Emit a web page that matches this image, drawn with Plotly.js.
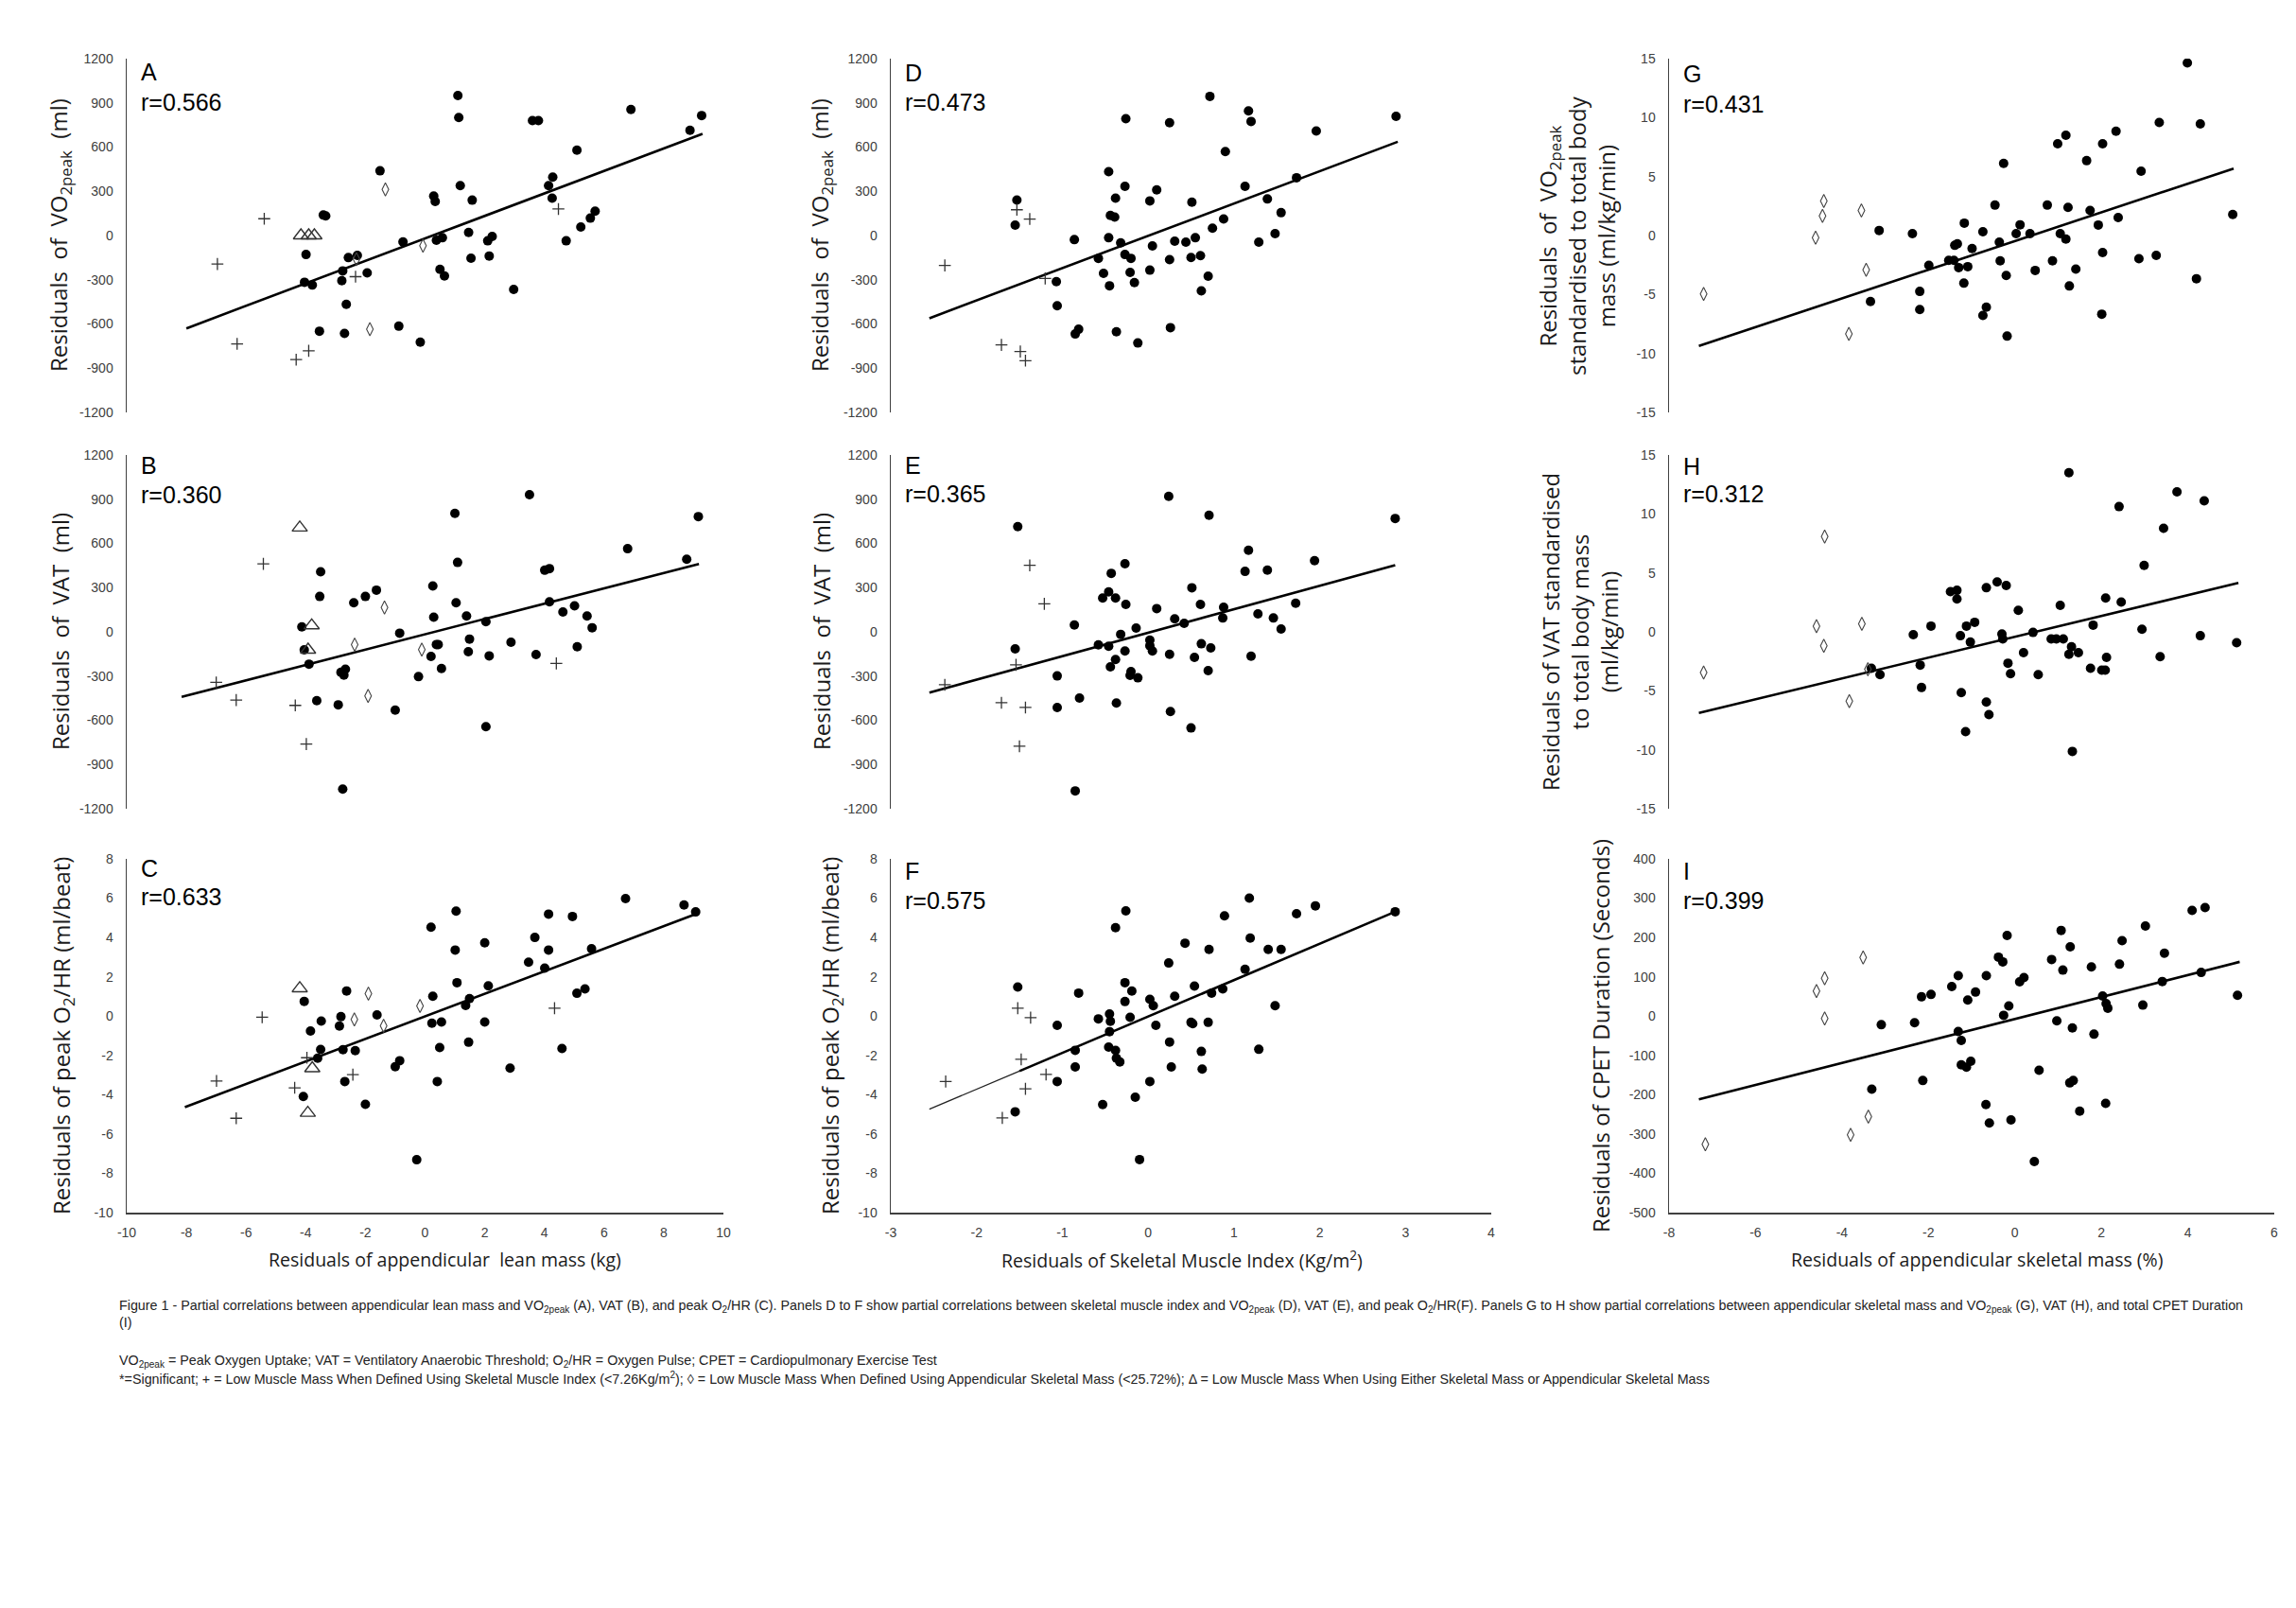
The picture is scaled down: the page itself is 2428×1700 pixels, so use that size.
<!DOCTYPE html>
<html>
<head>
<meta charset="utf-8">
<script src="https://cdn.plot.ly/plotly-3.0.1.min.js"></script>
<style>html,body{margin:0;padding:0;background:#fff;}#chart{width:2428px;height:1700px;}</style>
</head>
<body>
<div id="chart"></div>
<script>
// ---------------- DATA ----------------
// Panel A: appendicular lean mass (kg) vs VO2peak (ml)
const circX_A = [1.1,1.13,3.6,3.8,6.9,8.88,9.27,5.09,-1.51,1.18,4.14,4.28,4.26,0.29,0.34,1.58,-3.41,-3.33,1.46,5.70,5.54,5.22,4.73,-0.74,0.38,0.58,2.10,2.25,1.54,2.15,-3.99,-2.57,-2.27,-2.76,-1.94,-2.79,-4.04,-3.78,0.50,0.65,2.97,-2.64,-3.54,-2.70,-0.88,-0.16];
const circY_A = [950,800,780,780,855,714,814,579,439,339,339,396,253,268,231,240,139,133,21,165,118,58,-36,-43,-32,-15,-36,-6,-154,-139,-129,-150,-135,-240,-253,-306,-317,-336,-229,-274,-366,-467,-649,-664,-615,-724];
const crossX_A = [-5.39,-6.96,-2.33,4.47,-6.30,-3.90,-4.32];
const crossY_A = [114,-193,-279,180,-735,-782,-842];
const diamX_A = [-1.33,-0.07,-1.85,-2.3];
const diamY_A = [313,-69,-636,-160];
const triX_A = [-4.16,-3.90,-3.71];
const triY_A = [0,0,0];
const lineX_A = [-8,9.3];
const lineY_A = [-630,690];

// Panel B: appendicular lean mass vs VAT (ml)
const circX_B = [3.50,1.0,9.16,6.79,8.77,1.09,-3.50,4.01,4.17,-3.53,-1.63,-2.0,-2.39,0.26,1.04,4.17,4.62,5.01,5.43,5.60,0.29,1.39,2.04,-4.13,-0.85,0.44,0.38,1.49,2.88,-4.05,1.45,0.20,2.15,3.72,5.10,-3.89,-2.67,-2.82,-2.72,0.55,-0.22,-3.63,-2.91,-1.0,2.04,-2.76];
const circY_B = [930,804,782,564,493,471,407,418,429,240,283,240,197,311,197,204,135,176,107,28,99,107,69,34,-9,-86,-86,-49,-71,-122,-135,-167,-163,-154,-101,-219,-253,-274,-294,-249,-304,-467,-495,-531,-643,-1067];
const crossX_B = [-5.42,4.40,-7.0,-6.33,-4.35,-3.98];
const crossY_B = [461,-214,-343,-463,-499,-761];
const diamX_B = [-1.36,-2.36,-0.11,-1.91];
const diamY_B = [165,-86,-120,-435];
const triX_B = [-4.20,-3.80,-3.92];
const triY_B = [707,43,-122];
const lineX_B = [-8.16,9.18];
const lineY_B = [-441,461];

// Panel C: appendicular lean mass vs peak O2/HR (ml/beat)
const circX_C = [6.72,8.68,9.07,1.04,4.14,4.94,0.20,3.68,2.0,1.01,4.14,5.58,3.47,4.01,1.07,2.12,-2.63,5.36,5.09,-4.05,0.26,1.49,1.36,-1.61,-2.82,-3.48,-2.87,0.23,0.55,2.0,-3.84,1.46,0.49,4.59,-3.50,-2.75,-2.34,-3.60,-0.85,-1.0,2.85,-2.69,0.41,-4.08,-2.0,-0.28];
const circY_C = [5.98,5.65,5.30,5.34,5.19,5.07,4.52,4.0,3.73,3.36,3.36,3.43,2.74,2.44,1.70,1.54,1.28,1.38,1.16,0.75,1.01,0.89,0.54,0.06,-0.03,-0.25,-0.51,-0.36,-0.30,-0.30,-0.76,-1.33,-1.60,-1.65,-1.70,-1.71,-1.76,-2.14,-2.27,-2.58,-2.65,-3.33,-3.33,-4.09,-4.49,-7.31];
const crossX_C = [-5.46,4.34,-3.96,-2.42,-6.99,-4.37,-6.33];
const crossY_C = [-0.06,0.40,-2.12,-2.98,-3.30,-3.65,-5.20];
const diamX_C = [-1.90,-2.37,-1.39,-0.17];
const diamY_C = [1.14,-0.17,-0.49,0.52];
const triX_C = [-4.20,-3.78,-3.93];
const triY_C = [1.41,-2.66,-4.93];
const lineX_C = [-8.05,9.04];
const lineY_C = [-4.63,5.17];

// Panel D: skeletal muscle index vs VO2peak (ml)
const circX_D = [0.72,-0.26,0.25,1.17,1.20,2.89,1.96,0.90,-0.46,1.73,-0.27,0.10,1.13,-1.53,-0.38,0.02,0.51,1.39,-0.44,-0.39,1.55,0.88,0.75,1.48,-1.55,-0.86,-0.46,-0.32,0.31,0.44,0.55,1.29,0.05,-0.27,-0.20,-0.58,0.25,0.50,0.61,-0.52,-0.21,0.02,0.70,-1.07,-0.16,-0.45,0.62,-1.06,-0.81,-0.85,-0.37,0.26,-0.12];
const circY_D = [944,793,765,845,774,809,709,569,433,392,334,310,334,241,254,235,226,248,136,125,155,112,50,13,71,-28,-15,-50,-39,-45,-15,-45,-71,-129,-155,-155,-164,-149,-136,-257,-250,-235,-276,-313,-319,-341,-375,-476,-636,-668,-653,-625,-729];
const crossX_D = [-1.53,-1.38,-2.37,-1.20,-1.71,-1.49,-1.43];
const crossY_D = [175,112,-203,-291,-742,-787,-849];
const lineX_D = [-2.55,2.91];
const lineY_D = [-561,636];

// Panel E: skeletal muscle index vs VAT (ml)
const circX_E = [0.24,0.71,2.88,-1.52,1.17,1.94,-0.27,-0.43,1.13,1.39,0.51,-0.46,-0.53,-0.38,-0.26,0.61,0.10,0.88,1.72,1.28,1.46,0.31,0.87,0.42,-0.86,-0.14,1.55,-0.32,0.02,-0.58,-0.46,0.02,0.05,-0.27,0.62,0.73,-1.55,0.25,1.20,0.54,-0.38,-0.44,0.70,-0.20,-0.21,-0.12,-1.06,-0.80,-0.37,-1.06,0.26,0.50,-0.85];
const circY_E = [919,791,769,714,553,483,462,397,410,419,299,271,229,229,186,186,158,167,194,122,94,88,94,58,47,26,19,-17,-56,-88,-98,-94,-130,-130,-81,-109,-115,-152,-165,-173,-188,-237,-263,-269,-295,-312,-299,-449,-483,-513,-541,-652,-1079];
const crossX_E = [-1.38,-1.21,-1.54,-2.37,-1.71,-1.43,-1.50];
const crossY_E = [451,190,-224,-359,-481,-513,-776];
const lineX_E = [-2.55,2.88];
const lineY_E = [-412,453];

// Panel F: skeletal muscle index vs peak O2/HR (ml/beat)
const circX_F = [1.18,1.95,1.73,2.88,-0.26,0.89,-0.38,1.19,0.43,0.71,1.40,1.55,0.24,1.13,-0.27,-1.52,0.54,0.87,-0.19,-0.81,0.74,0.31,0.02,-0.27,0.06,1.48,-0.45,-0.58,-0.44,-0.21,0.50,0.52,0.70,-1.06,0.09,-0.45,0.25,-0.46,-0.85,-0.38,0.62,1.29,-0.37,-0.33,-0.85,0.27,0.63,-1.06,0.02,-0.15,-0.53,-1.55,-0.10];
const circY_F = [6.0,5.61,5.21,5.31,5.35,5.10,4.50,3.97,3.71,3.39,3.39,3.39,2.70,2.38,1.70,1.48,1.53,1.38,1.27,1.17,1.17,1.01,0.85,0.74,0.53,0.53,0.11,-0.14,-0.27,-0.06,-0.32,-0.39,-0.32,-0.47,-0.47,-0.79,-1.32,-1.58,-1.74,-1.75,-1.80,-1.69,-2.14,-2.33,-2.59,-2.59,-2.70,-3.33,-3.33,-4.13,-4.50,-4.87,-7.30];
const crossX_F = [-1.52,-1.37,-1.48,-1.19,-2.36,-1.43,-1.70];
const crossY_F = [0.40,-0.08,-2.20,-2.97,-3.33,-3.70,-5.18];
const lineX_F = [-2.55,-1.5,2.88];
const lineY_F = [-4.74,-2.80,5.31];

// Panel G: appendicular skeletal mass (%) vs VO2peak (ml/kg/min)
const circX_G = [3.99,3.34,4.29,2.34,1.18,0.99,2.03,1.66,-0.26,2.92,-0.46,0.75,1.23,1.74,5.04,2.39,-1.17,0.12,1.93,-3.14,-2.37,-0.74,0.03,0.35,1.05,1.18,-0.36,-1.33,-1.39,-0.99,2.03,2.87,3.27,-1.53,-1.41,-0.34,0.87,-1.99,-1.30,-1.09,0.47,1.41,-0.20,4.20,-1.18,1.26,-2.20,-3.34,-2.20,-0.66,-0.74,2.01,-0.18];
const circY_G = [14.64,9.58,9.47,8.85,8.50,7.78,7.78,6.35,6.11,5.46,2.58,2.58,2.39,2.13,1.78,1.53,1.05,0.91,0.89,0.43,0.16,0.32,0.16,0.16,0.16,-0.30,-0.56,-0.70,-0.83,-1.10,-1.45,-1.96,-1.69,-2.10,-2.10,-2.15,-2.15,-2.53,-2.72,-2.64,-2.96,-2.85,-3.39,-3.66,-4.04,-4.28,-4.74,-5.60,-6.27,-6.08,-6.78,-6.67,-8.53];
const diamX_G = [-4.42,-4.45,-3.55,-4.61,-3.44,-7.20,-3.84];
const diamY_G = [2.93,1.67,2.13,-0.19,-2.91,-4.95,-8.34];
const lineX_G = [-7.31,5.06];
const lineY_G = [-9.36,5.68];

// Panel H: appendicular skeletal mass (%) vs VAT (ml/kg/min)
const circX_H = [1.25,3.75,4.38,2.41,3.44,2.99,-0.41,-0.20,-0.66,-1.49,-1.34,-1.34,2.10,2.46,1.05,0.08,-0.93,-1.94,-1.12,1.81,2.94,0.42,-2.35,-1.26,-0.30,-0.28,4.29,0.84,0.96,1.12,-1.03,5.13,1.31,1.25,1.47,0.20,3.36,2.12,-0.16,-2.19,-3.32,1.75,2.01,2.09,-3.12,-0.10,0.54,-2.16,-1.24,-0.66,-0.60,-1.14,1.33];
const circY_H = [13.50,11.87,11.11,10.62,8.78,5.64,4.23,3.93,3.74,3.41,3.52,2.79,2.87,2.52,2.25,1.82,0.81,0.49,0.49,0.57,0.22,-0.05,-0.24,-0.33,-0.19,-0.60,-0.33,-0.60,-0.60,-0.60,-0.87,-0.92,-1.27,-1.90,-1.76,-1.76,-2.11,-2.17,-2.66,-2.82,-3.09,-3.09,-3.25,-3.25,-3.63,-3.55,-3.63,-4.72,-5.15,-5.96,-7.02,-8.46,-10.14];
const diamX_H = [-4.40,-4.59,-3.54,-4.42,-3.40,-7.20,-3.83];
const diamY_H = [8.08,0.49,0.68,-1.19,-3.17,-3.44,-5.88];
const lineX_H = [-7.31,5.17];
const lineY_H = [-6.88,4.15];

// Panel I: appendicular skeletal mass (%) vs CPET duration (s)
const circX_I = [4.10,4.40,3.02,1.07,-0.18,2.48,1.28,3.46,-0.38,-0.28,0.85,2.42,1.77,1.11,4.31,-1.31,-0.66,0.21,0.11,3.41,-1.46,-0.91,-1.94,-2.16,-1.09,2.03,5.15,2.11,2.15,2.96,-0.14,-0.26,-3.09,-2.32,0.97,1.33,-1.31,-1.24,1.83,-1.02,-1.24,-1.12,0.56,-2.13,1.27,1.35,-3.31,-0.67,2.10,1.50,-0.59,-0.09,0.45];
const circY_I = [269,276,229,218,205,192,176,160,150,138,144,132,125,117,111,103,103,98,87,88,75,61,55,49,41,51,53,32,20,28,26,2,-22,-17,-12,-30,-39,-62,-46,-115,-124,-130,-138,-164,-170,-164,-186,-225,-222,-242,-272,-264,-370];
const diamX_I = [-3.51,-4.40,-4.59,-4.40,-3.39,-3.80,-7.16];
const diamY_I = [149,96,64,-6,-256,-302,-326];
const lineX_I = [-7.31,5.20];
const lineY_I = [-212,138];

// Tick values
const ticksMl = [-1200,-900,-600,-300,0,300,600,900,1200];
const ticksO2HR = [-10,-8,-6,-4,-2,0,2,4,6,8];
const ticksKgMin = [-15,-10,-5,0,5,10,15];
const ticksSec = [-500,-400,-300,-200,-100,0,100,200,300,400];
const ticksLean = [-10,-8,-6,-4,-2,0,2,4,6,8,10];
const ticksSMI = [-3,-2,-1,0,1,2,3,4];
const ticksASM = [-8,-6,-4,-2,0,2,4,6];

// Texts
const rValues = {A:'r=0.566',B:'r=0.360',C:'r=0.633',D:'r=0.473',E:'r=0.365',F:'r=0.575',G:'r=0.431',H:'r=0.312',I:'r=0.399'};
const yTitles = {
  A:'Residuals  of  VO<sub>2peak</sub>  (ml)',
  B:'Residuals  of  VAT  (ml)',
  C:'Residuals of peak O<sub>2</sub>/HR (ml/beat)',
  D:'Residuals  of  VO<sub>2peak</sub>  (ml)',
  E:'Residuals  of  VAT  (ml)',
  F:'Residuals of peak O<sub>2</sub>/HR (ml/beat)',
  G:'Residuals  of  VO<sub>2peak</sub><br>standardised to total body<br>mass (ml/kg/min)',
  H:'Residuals of VAT standardised<br>to total body mass<br>(ml/kg/min)',
  I:'Residuals of CPET Duration (Seconds)'
};
const xTitles = ['Residuals of appendicular  lean mass (kg)','Residuals of Skeletal Muscle Index (Kg/m<sup>2</sup>)','Residuals of appendicular skeletal mass (%)'];
const captionLines = [
  'Figure 1 - Partial correlations between appendicular lean mass and VO<sub>2peak</sub> (A), VAT (B), and peak O<sub>2</sub>/HR (C). Panels D to F show partial correlations between skeletal muscle index and VO<sub>2peak</sub> (D), VAT (E), and peak O<sub>2</sub>/HR(F). Panels G to H show partial correlations between appendicular skeletal mass and VO<sub>2peak</sub> (G), VAT (H), and total CPET Duration',
  '(I)',
  'VO<sub>2peak</sub> = Peak Oxygen Uptake; VAT = Ventilatory Anaerobic Threshold; O<sub>2</sub>/HR = Oxygen Pulse; CPET = Cardiopulmonary Exercise Test',
  '*=Significant; + = Low Muscle Mass When Defined Using Skeletal Muscle Index (&lt;7.26Kg/m<sup>2</sup>); \u25CA = Low Muscle Mass When Defined Using Appendicular Skeletal Mass (&lt;25.72%); \u0394 = Low Muscle Mass When Using Either Skeletal Mass or Appendicular Skeletal Mass'
];

// ---------------- LAYOUT / STYLE ----------------
const W = 2428, H = 1700;
const colPx = [[134,765],[942,1577],[1765,2405]];
const rowPx = [[62,436],[481,855],[908,1282]];
const xRanges = [[-10,10],[-3,4],[-8,6]];
const xTicks = [ticksLean, ticksSMI, ticksASM];
const px = p => p / W;
const py = p => 1 - p / H;

const panels = [
  {id:'A',col:0,row:0,yr:[-1200,1200],yt:ticksMl,c:[circX_A,circY_A],p:[crossX_A,crossY_A],d:[diamX_A,diamY_A],t:[triX_A,triY_A],l:[lineX_A,lineY_A],lab:[76,108],ytx:63},
  {id:'B',col:0,row:1,yr:[-1200,1200],yt:ticksMl,c:[circX_B,circY_B],p:[crossX_B,crossY_B],d:[diamX_B,diamY_B],t:[triX_B,triY_B],l:[lineX_B,lineY_B],lab:[492,523],ytx:63},
  {id:'C',col:0,row:2,yr:[-10,8],yt:ticksO2HR,c:[circX_C,circY_C],p:[crossX_C,crossY_C],d:[diamX_C,diamY_C],t:[triX_C,triY_C],l:[lineX_C,lineY_C],lab:[918,948],ytx:66},
  {id:'D',col:1,row:0,yr:[-1200,1200],yt:ticksMl,c:[circX_D,circY_D],p:[crossX_D,crossY_D],l:[lineX_D,lineY_D],lab:[77,108],ytx:868},
  {id:'E',col:1,row:1,yr:[-1200,1200],yt:ticksMl,c:[circX_E,circY_E],p:[crossX_E,crossY_E],l:[lineX_E,lineY_E],lab:[492,522],ytx:868},
  {id:'F',col:1,row:2,yr:[-10,8],yt:ticksO2HR,c:[circX_F,circY_F],p:[crossX_F,crossY_F],l:[lineX_F,lineY_F],split:true,lab:[921,952],ytx:879},
  {id:'G',col:2,row:0,yr:[-15,15],yt:ticksKgMin,c:[circX_G,circY_G],d:[diamX_G,diamY_G],l:[lineX_G,lineY_G],lab:[78,110],ytx:1667},
  {id:'H',col:2,row:1,yr:[-15,15],yt:ticksKgMin,c:[circX_H,circY_H],d:[diamX_H,diamY_H],l:[lineX_H,lineY_H],lab:[493,522],ytx:1670},
  {id:'I',col:2,row:2,yr:[-500,400],yt:ticksSec,c:[circX_I,circY_I],d:[diamX_I,diamY_I],l:[lineX_I,lineY_I],lab:[921,952],ytx:1692}
];

const TICKFONT = {family:'"Liberation Sans", Arial, sans-serif', size:14, color:'#404040'};
const YTITLEFONT = {family:'"Open Sans", "DejaVu Sans", sans-serif', size:24, color:'#1a1a1a'};
const XTITLEFONT = {family:'"Open Sans", "DejaVu Sans", sans-serif', size:19.5, color:'#1a1a1a'};
const LABFONT = {family:'"Liberation Sans", Arial, sans-serif', size:25, color:'#000'};
const CAPFONT = {family:'"Liberation Sans", Arial, sans-serif', size:14.3, color:'#222'};

const traces = [];
const layout = {
  width: W, height: H,
  margin: {l:0, r:0, t:0, b:0},
  paper_bgcolor: '#fff', plot_bgcolor: 'rgba(0,0,0,0)',
  showlegend: false,
  annotations: []
};

panels.forEach((pn, i) => {
  const n = i + 1;
  const xa = n === 1 ? 'x' : 'x' + n;
  const ya = n === 1 ? 'y' : 'y' + n;
  const xKey = n === 1 ? 'xaxis' : 'xaxis' + n;
  const yKey = n === 1 ? 'yaxis' : 'yaxis' + n;
  const cp = colPx[pn.col], rp = rowPx[pn.row];
  const bottom = pn.row === 2;

  layout[xKey] = {
    domain: [px(cp[0]), px(cp[1])], range: xRanges[pn.col], anchor: ya,
    showgrid: false, zeroline: false, ticks: '', fixedrange: true,
    showline: bottom, linecolor: '#404040', linewidth: 1.5,
    showticklabels: bottom,
    tickmode: 'array', tickvals: xTicks[pn.col], ticktext: xTicks[pn.col].map(String),
    tickfont: TICKFONT, ticklabelstandoff: 8
  };
  layout[yKey] = {
    domain: [py(rp[1]), py(rp[0])], range: pn.yr, anchor: xa,
    showgrid: false, zeroline: false, ticks: '', fixedrange: true,
    showline: true, linecolor: '#404040', linewidth: 1.5,
    tickmode: 'array', tickvals: pn.yt, ticktext: pn.yt.map(String),
    tickfont: TICKFONT, ticklabelstandoff: 10
  };

  // regression line
  if (pn.split) {
    traces.push({type:'scatter', mode:'lines', x:pn.l[0].slice(0,2), y:pn.l[1].slice(0,2), xaxis:xa, yaxis:ya,
      line:{color:'#222', width:1.3}, hoverinfo:'skip'});
    traces.push({type:'scatter', mode:'lines', x:pn.l[0].slice(1), y:pn.l[1].slice(1), xaxis:xa, yaxis:ya,
      line:{color:'#000', width:2.6}, hoverinfo:'skip'});
  } else {
    traces.push({type:'scatter', mode:'lines', x:pn.l[0], y:pn.l[1], xaxis:xa, yaxis:ya,
      line:{color:'#000', width:2.6}, hoverinfo:'skip'});
  }
  // filled circles
  traces.push({type:'scatter', mode:'markers', x:pn.c[0], y:pn.c[1], xaxis:xa, yaxis:ya,
    marker:{symbol:'circle', size:10, color:'#000', line:{width:0}}});
  if (pn.p) traces.push({type:'scatter', mode:'markers', x:pn.p[0], y:pn.p[1], xaxis:xa, yaxis:ya,
    marker:{symbol:'cross-thin-open', size:9, color:'#333', line:{color:'#333', width:1.3}}});
  if (pn.d) traces.push({type:'scatter', mode:'markers', x:pn.d[0], y:pn.d[1], xaxis:xa, yaxis:ya,
    marker:{symbol:'diamond-tall-open', size:10, color:'#444', line:{color:'#444', width:1.1}}});
  if (pn.t) traces.push({type:'scatter', mode:'markers', x:pn.t[0], y:pn.t[1], xaxis:xa, yaxis:ya,
    marker:{symbol:'triangle-up-open', size:14, color:'#333', line:{color:'#333', width:1.4}}});

  // panel letter and r value
  layout.annotations.push({xref:'paper', yref:'paper', x:px(cp[0]+13), y:py(pn.lab[0]), xanchor:'left', yanchor:'middle',
    text:pn.id, showarrow:false, font:LABFONT});
  layout.annotations.push({xref:'paper', yref:'paper', x:px(cp[0]+13), y:py(pn.lab[1]), xanchor:'left', yanchor:'middle',
    text:rValues[pn.id], showarrow:false, font:LABFONT});
  // y title
  layout.annotations.push({xref:'paper', yref:'paper', x:px(pn.ytx), y:py((rp[0]+rp[1])/2), xanchor:'center', yanchor:'middle',
    text:yTitles[pn.id], textangle:-90, showarrow:false, font:YTITLEFONT, align:'center'});
});

// x titles
const xTitleCx = [470, 1250, 2090];
xTitles.forEach((t, c) => {
  layout.annotations.push({xref:'paper', yref:'paper', x:px(xTitleCx[c]), y:py(1331), xanchor:'center', yanchor:'middle',
    text:t, showarrow:false, font:XTITLEFONT});
});

// caption
const capY = [1381, 1398, 1439, 1457];
captionLines.forEach((t, k) => {
  layout.annotations.push({xref:'paper', yref:'paper', x:px(124), y:py(capY[k]), xanchor:'left', yanchor:'middle',
    text:t, showarrow:false, font:CAPFONT, align:'left'});
});

Plotly.newPlot('chart', traces, layout, {staticPlot:true, displayModeBar:false});
</script>
</body>
</html>
